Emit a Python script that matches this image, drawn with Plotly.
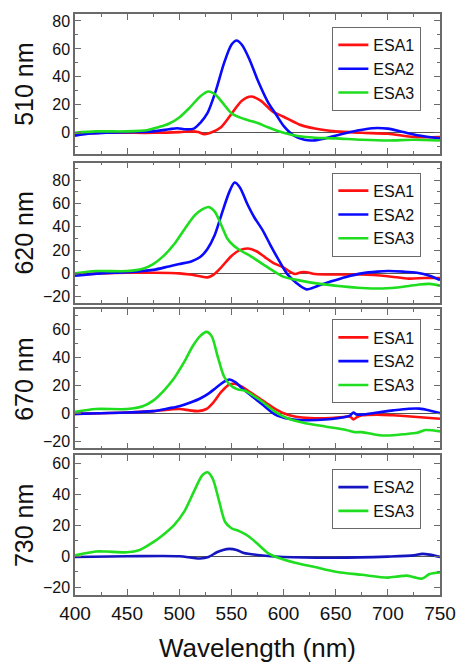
import plotly.graph_objects as go

# ---- 510 nm excitation ----
wl_510_esa1 = [400, 425, 450, 475, 500, 512, 518, 524, 530, 540, 550, 560, 569, 578, 590, 600, 615, 630, 650, 675, 700, 725, 750]
esa1_510 = [-1, 0, 0, 0, 0.5, 1, 0.5, -1, 0, 4, 13.5, 23, 26, 23, 15, 11.5, 6, 3, 1, 0, -0.7, -3, -3]
wl_510_esa2 = [400, 415, 430, 450, 475, 490, 498, 506, 514, 520, 527, 535, 543, 550, 555, 560, 567, 575, 585, 592, 600, 610, 620, 628, 640, 655, 670, 685, 700, 715, 730, 750]
esa2_510 = [-2, -0.5, 0, 0.5, 1, 2.5, 3.3, 2.5, 3, 7, 14, 30, 50, 63, 66, 63, 53, 38, 22, 14, 5, -2, -5, -5.5, -4, -1, 1.5, 3.3, 3, 0.5, -2, -4]
wl_510_esa3 = [400, 420, 450, 470, 480, 490, 500, 510, 520, 528, 535, 542, 550, 558, 566, 575, 585, 600, 615, 630, 650, 675, 700, 725, 750]
esa3_510 = [0, 1, 1, 2, 4, 6.5, 11, 18, 26, 29.5, 27, 21, 14, 11, 9, 7, 4, 0, -2.5, -3.5, -4, -5, -5.5, -5, -5.5]

# ---- 620 nm excitation ----
wl_620_esa1 = [400, 425, 450, 475, 500, 510, 520, 527, 533, 540, 550, 558, 566, 574, 582, 590, 600, 606, 611, 617, 622, 630, 650, 675, 700, 720, 735, 750]
esa1_620 = [-1, 0, 0.5, 0.5, 0, -1, -2.5, -3.4, -1, 5, 15, 20, 21.4, 19, 14, 9, 5, 1.5, -0.5, 1, 1, -0.5, -1, -1, -2.5, -4.5, -4, -4]
wl_620_esa2 = [400, 425, 450, 475, 490, 500, 512, 520, 527, 534, 541, 548, 553, 558, 565, 572, 580, 587, 595, 603, 612, 622, 632, 645, 660, 675, 690, 700, 715, 728, 740, 750]
esa2_620 = [-2, 0, 1, 3, 6, 8, 10.5, 14, 21, 33, 52, 70, 78, 74, 60, 48, 37, 25, 12, 0, -8, -13.7, -11, -7, -3, 0, 1.5, 2, 1.5, 0.5, -2, -5.7]
wl_620_esa3 = [400, 420, 450, 465, 475, 485, 495, 505, 515, 522, 528, 534, 540, 546, 552, 560, 568, 580, 592, 600, 615, 635, 655, 675, 695, 715, 730, 740, 750]
esa3_620 = [0, 2, 2, 4, 8, 15, 25, 38, 50, 55, 57, 53, 42, 30, 24, 19, 15, 8, 1, -3, -6, -9, -11, -12.5, -13, -11.5, -9.5, -9, -10.5]

# ---- 670 nm excitation ----
wl_670_esa1 = [400, 425, 450, 475, 500, 510, 518, 526, 533, 540, 548, 553, 560, 570, 580, 590, 600, 612, 625, 645, 660, 664, 667, 670, 675, 690, 705, 725, 750]
esa1_670 = [-0.5, 0, 0.5, 1.5, 3, 2, 1.5, 3, 8, 15, 20.5, 21, 19, 14, 9, 4, 0, -2.5, -3.5, -3.5, -2.5, -2.5, -4.5, -3, -1.5, -1, -1.5, -2.5, -4]
wl_670_esa2 = [400, 425, 450, 475, 490, 500, 512, 520, 528, 535, 542, 548, 554, 560, 570, 580, 592, 605, 620, 640, 660, 664, 667, 670, 675, 690, 705, 720, 730, 740, 750]
esa2_670 = [-0.5, 0, 0.5, 1.5, 3.5, 5, 8, 10.5, 14, 18, 22, 24, 22, 18, 12, 6, -1, -4, -5, -4.5, -2.5, -1.5, 0.5, -1, -1, 0.5, 2, 3.2, 3.3, 2, 0]
wl_670_esa3 = [400, 420, 450, 465, 475, 485, 495, 505, 513, 520, 526, 531, 537, 543, 549, 556, 563, 570, 580, 592, 605, 620, 640, 660, 668, 675, 690, 700, 715, 728, 736, 750]
esa3_670 = [1, 3, 3, 5, 9, 16, 25, 37, 48, 55, 58, 55, 40, 26, 20, 17, 16, 13, 8, 1, -4, -7, -9.5, -12, -13.5, -13.5, -15.5, -15.9, -15, -14, -12, -13]

# ---- 730 nm excitation ----
wl_730_esa2 = [400, 450, 500, 512, 520, 528, 536, 542, 548, 555, 562, 575, 600, 650, 700, 725, 733, 740, 750]
esa2_730 = [-0.5, 0, 0, -1, -1.5, -0.5, 2.5, 4, 4.7, 4, 2, 0.8, -0.5, -1, -0.3, 0.5, 1.5, 1, -0.5]
wl_730_esa3 = [400, 420, 430, 450, 462, 475, 485, 495, 505, 515, 522, 527, 532, 538, 544, 550, 558, 566, 575, 585, 595, 610, 630, 650, 675, 700, 710, 718, 725, 733, 740, 750]
esa3_730 = [0.5, 3, 3, 2.5, 4, 9, 14, 20, 29, 43, 52, 54, 50, 36, 22, 18, 16, 13, 8, 2, -1, -4, -7, -10, -12, -13.8, -13, -12.5, -13.5, -14.4, -11.5, -10.5]

panel_titles = ["510 nm", "620 nm", "670 nm", "730 nm"]
y_ranges = [[-15, 85], [-25, 95], [-25, 74], [-25, 65]]
x_ticks = [400, 450, 500, 550, 600, 650, 700, 750]

RED, BLUE, GREEN, NAVY = "#ff1111", "#0a0aff", "#1fdd1f", "#1616c0"

panels = [
    [("ESA1", wl_510_esa1, esa1_510, RED), ("ESA2", wl_510_esa2, esa2_510, BLUE), ("ESA3", wl_510_esa3, esa3_510, GREEN)],
    [("ESA1", wl_620_esa1, esa1_620, RED), ("ESA2", wl_620_esa2, esa2_620, BLUE), ("ESA3", wl_620_esa3, esa3_620, GREEN)],
    [("ESA1", wl_670_esa1, esa1_670, RED), ("ESA2", wl_670_esa2, esa2_670, BLUE), ("ESA3", wl_670_esa3, esa3_670, GREEN)],
    [("ESA2", wl_730_esa2, esa2_730, NAVY), ("ESA3", wl_730_esa3, esa3_730, GREEN)],
]

# layout geometry (pixels): plot area spans x 75..447, y 13..595
W, H = 468, 664
ML, MR, MT, MB = 75, 21, 13, 69
area_h = H - MT - MB
panel_px = [(13, 153), (162, 302), (309, 448), (455, 595)]
legend_top_px = [26, 172, 319, 469]


def ypaper(px):
    return (H - MB - px) / area_h


FRAME = "#6a6a6a"
fig = go.Figure()
layout = dict(
    width=W, height=H,
    margin=dict(l=ML, r=MR, t=MT, b=MB),
    paper_bgcolor="white", plot_bgcolor="white",
    font=dict(family="Arial, Liberation Sans, sans-serif", color="#111111"),
    showlegend=True,
)

for i, series in enumerate(panels):
    n = i + 1
    xa = "x" if n == 1 else f"x{n}"
    ya = "y" if n == 1 else f"y{n}"
    leg = "legend" if n == 1 else f"legend{n}"
    for name, wl, vals, col in series:
        fig.add_trace(go.Scatter(
            x=wl, y=vals, name=name, mode="lines",
            line=dict(color=col, width=2.6, shape="spline", smoothing=0.8),
            xaxis=xa, yaxis=ya, legend=leg,
        ))
    top, bot = panel_px[i]
    last = (n == 4)
    layout["xaxis" if n == 1 else f"xaxis{n}"] = dict(
        domain=[0, 1], anchor=ya, range=[400, 750],
        tickvals=x_ticks, showticklabels=last,
        tickfont=dict(size=19, color="#111111"),
        ticks="inside", ticklen=6, tickwidth=1.3, tickcolor=FRAME,
        minor=dict(ticks="inside", ticklen=3, tickwidth=1.3, tickcolor=FRAME, dtick=25, tick0=400),
        showline=True, linecolor=FRAME, linewidth=1.5, mirror="ticks",
        showgrid=False, zeroline=False,
        matches=None if n == 1 else "x",
    )
    layout["yaxis" if n == 1 else f"yaxis{n}"] = dict(
        domain=[ypaper(bot), ypaper(top)], anchor=xa, range=y_ranges[i],
        dtick=20, tick0=0, tickfont=dict(size=16, color="#111111"),
        ticks="inside", ticklen=6, tickwidth=1.3, tickcolor=FRAME,
        minor=dict(ticks="inside", ticklen=3, tickwidth=1.3, tickcolor=FRAME, dtick=10, tick0=0),
        showline=True, linecolor=FRAME, linewidth=1.5, mirror="ticks",
        showgrid=False, zeroline=True, zerolinecolor="#555555", zerolinewidth=1.2,
    )
    layout[leg] = dict(
        x=(428 - ML) / 372, xanchor="right", xref="paper",
        y=ypaper(legend_top_px[i]), yanchor="top", yref="paper",
        bgcolor="white", bordercolor=FRAME, borderwidth=1,
        font=dict(size=16, color="#111111"), tracegroupgap=0,
        itemwidth=30,
    )

fig.update_layout(**layout)

# panel labels on the left and the shared x-axis title
for i, t in enumerate(panel_titles):
    top, bot = panel_px[i]
    fig.add_annotation(
        text=t, xref="paper", yref="paper",
        x=(23 - ML) / 372, y=ypaper((top + bot) / 2),
        xanchor="center", yanchor="middle", textangle=-90,
        showarrow=False, font=dict(size=25, color="#111111"),
    )
fig.add_annotation(
    text="Wavelength (nm)", xref="paper", yref="paper",
    x=0.5, y=ypaper(648), xanchor="center", yanchor="middle",
    showarrow=False, font=dict(size=26, color="#111111"),
)

fig.write_html("out.html")
